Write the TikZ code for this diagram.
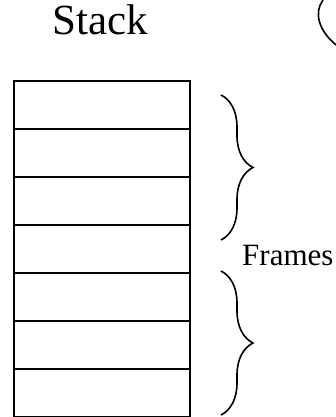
\documentclass[tikz,border=0pt]{standalone}
\usepackage{fontspec}
\setmainfont{Liberation Serif}
\usetikzlibrary{decorations.pathreplacing}

\tikzset{
	cell/.style={draw, line width=1.8pt, minimum width=176pt, minimum height=48pt, inner sep=0pt, anchor=north west},
	curly/.style={decorate, decoration={brace, amplitude=32pt}, line width=1.6pt},
}

\begin{document}
\begin{tikzpicture}[x=1pt, y=-1pt]
	\useasboundingbox (0,0) rectangle (336,417);

	\node[anchor=base, font=\fontsize{43}{43}\selectfont] (stacklbl) at (100,35) {Stack};
	\foreach \i in {0,...,6}
		\node[cell] (row\i) at (13,{80+48*\i}) {};

	\coordinate (topA) at (221,95);
	\coordinate (botA) at (221,240);
	\coordinate (topB) at (221,271);
	\coordinate (botB) at (221,415);
	\draw[curly] (topA) -- (botA);
	\draw[curly] (topB) -- (botB);
	\node[anchor=base west, inner sep=0pt, font=\fontsize{31}{31}\selectfont] (frameslbl) at (242,265) {Frames};

	\draw[line width=1.6pt] (323,0) .. controls (314,12) and (318,30) .. (336,45);
\end{tikzpicture}
\end{document}
